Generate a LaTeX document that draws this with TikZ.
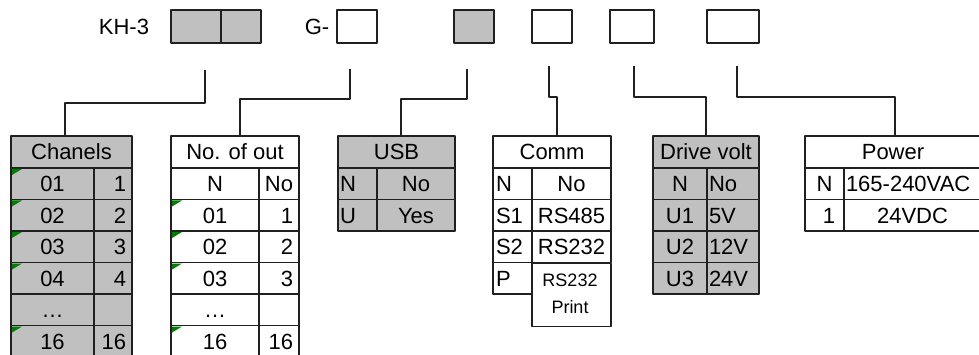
\documentclass[tikz,border=0pt]{standalone}
\usepackage{fontspec}
\setmainfont{Liberation Sans}
\definecolor{boxgray}{HTML}{C0C0C0}
\definecolor{linegray}{HTML}{202020}
\definecolor{markgreen}{HTML}{008000}
\begin{document}
\begin{tikzpicture}[x=1pt,y=-1pt,line join=round,font=\fontsize{22}{26}\selectfont,
	cell/.style={draw=linegray,line width=1.5pt,inner sep=0pt,outer sep=0pt,minimum height=31.5pt,text height=16pt,text depth=0pt},
	gcell/.style={cell,fill=boxgray},
	tw/.style 2 args={text width=#1,align=#2},
	topbox/.style={draw=linegray,line width=1.5pt,inner sep=0pt,outer sep=0pt,minimum height=33pt},
	wire/.style={draw=linegray,line width=1.5pt},
	notemark/.style={fill=markgreen}]
	\clip (0,0) rectangle (979,355);
	\path
	(205,70) coordinate (c1)
	(350,69) coordinate (c2)
	(467,69) coordinate (c3)
	(549,66) coordinate (c4)
	(634,66) coordinate (c5)
	(737,66) coordinate (c6);
	
	\node (kh) at (124,26.5) {KH-3};
	\node[topbox,fill=boxgray,minimum width=50pt] (kh1) at (196,26.5) {};
	\node[topbox,fill=boxgray,minimum width=40pt] (kh2) at (241,26.5) {};
	\node (gpre) at (317,26.5) {G-};
	\node[topbox,minimum width=40pt] (gbox) at (357,26.5) {};
	\node[topbox,fill=boxgray,minimum width=40pt] (usbbox) at (474,26.5) {};
	\node[topbox,minimum width=40pt] (commbox) at (552,26.5) {};
	\node[topbox,minimum width=44pt] (drivebox) at (632,26.5) {};
	\node[topbox,minimum width=52pt] (powerbox) at (733,26.5) {};
	
	\node[gcell,minimum width=121pt,minimum height=32pt] (chanels) at (71.5,152) {Chanels};
	\foreach \a/\b [count=\i] in {01/1,02/2,03/3,04/4,\ldots/{},16/16} {
		\node[gcell,minimum width=83pt] (chL\i) at (52.5,152.25+31.5*\i) {\a};
		\node[gcell,tw={26pt}{right},inner xsep=6pt] (chR\i) at (113,152.25+31.5*\i) {\b};
	}
	\foreach \r in {1,2,3,4,6}
	\fill[notemark] ([shift={(1,1)}]chL\r.north west) -- ++(10,0) -- ++(-10,6) -- cycle;
	
	\node[cell,minimum width=128pt,minimum height=32pt] (numout) at (235,152) {No. of out};
	\node[cell,minimum width=88pt] (noL1) at (215,183.75) {N};
	\node[cell,minimum width=40pt] (noR1) at (279,183.75) {No};
	\foreach \a/\b [count=\i from 2] in {01/1,02/2,03/3,\ldots/{},16/16} {
		\node[cell,minimum width=88pt] (noL\i) at (215,152.25+31.5*\i) {\a};
		\node[cell,tw={28pt}{right},inner xsep=6pt] (noR\i) at (279,152.25+31.5*\i) {\b};
	}
	\foreach \r in {2,3,4,6}
	\fill[notemark] ([shift={(1,1)}]noL\r.north west) -- ++(10,0) -- ++(-10,6) -- cycle;
	
	\node[gcell,minimum width=117pt,minimum height=32pt] (usb) at (396.5,152) {USB};
	\foreach \a/\b [count=\i] in {N/No,U/Yes} {
		\node[gcell,tw={35pt}{left},inner xsep=2pt] (usL\i) at (357.5,152.25+31.5*\i) {\a};
		\node[gcell,minimum width=78pt] (usR\i) at (416,152.25+31.5*\i) {\b};
	}
	
	\node[cell,minimum width=118pt,minimum height=32pt] (comm) at (552,152) {Comm};
	\foreach \a/\b [count=\i] in {N/No,S1/RS485,S2/RS232} {
		\node[cell,tw={33pt}{left},inner xsep=3pt] (cmL\i) at (512.5,152.25+31.5*\i) {\a};
		\node[cell,minimum width=79pt] (cmR\i) at (571.5,152.25+31.5*\i) {\b};
	}
	\node[cell,tw={33pt}{left},inner xsep=3pt] (cmL4) at (512.5,278.25) {P};
	\node[cell,minimum width=79pt,minimum height=63pt] (cmR4) at (571.5,294.75) {};
	\node[font=\fontsize{18}{22}\selectfont] (rsp) at (570,280) {RS232};
	\node[font=\fontsize{18}{22}\selectfont] (prt) at (570,307) {Print};
	
	\node[gcell,minimum width=106pt,minimum height=32pt] (drive) at (706,152) {Drive volt};
	\foreach \a/\b [count=\i] in {N/No,U1/5V,U2/12V,U3/24V} {
		\node[gcell,minimum width=54pt] (dvL\i) at (680,152.25+31.5*\i) {\a};
		\node[gcell,tw={48pt}{left},inner xsep=2pt] (dvR\i) at (733,152.25+31.5*\i) {\b};
	}
	
	\node[cell,minimum width=176pt,minimum height=32pt] (power) at (893,152) {Power};
	\node[cell,minimum width=39pt] (pwL1) at (824.5,183.75) {N};
	\node[cell,tw={133pt}{left},inner xsep=2pt] (pwR1) at (912.5,183.75) {165-240VAC};
	\node[cell,tw={21pt}{right},inner xsep=9pt] (pwL2) at (824.5,215.25) {1};
	\node[cell,minimum width=137pt] (pwR2) at (912.5,215.25) {24VDC};
	
	\draw[wire] (c1) -- ++(0,33) -| ([xshift=-6.5pt]chanels.north);
	\draw[wire] (c2) -- ++(0,30) -| ([xshift=5pt]numout.north);
	\draw[wire] (c3) -- ++(0,30) -| ([xshift=4.5pt]usb.north);
	\draw[wire] (c4) -- ++(0,31) -| ([xshift=5pt]comm.north);
	\draw[wire] (c5) -- ++(0,31) -| (drive.north);
	\draw[wire] (c6) -- ++(0,31) -| ([xshift=2pt]power.north);
\end{tikzpicture}
\end{document}
